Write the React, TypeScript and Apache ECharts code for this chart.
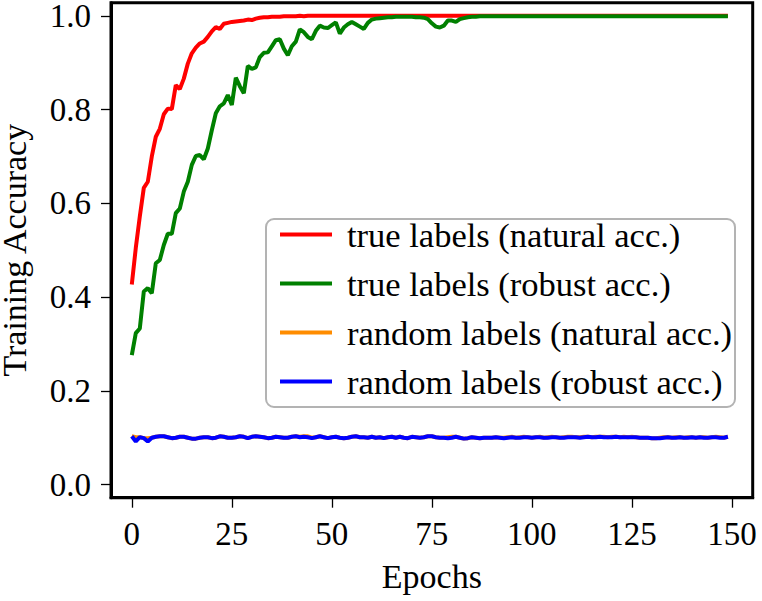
import React, { useEffect, useRef } from "react";
import * as echarts from "echarts";

const FONT = "Liberation Serif";

const seriesNames = [
  "true labels (natural acc.)",
  "true labels (robust acc.)",
  "random labels (natural acc.)",
  "random labels (robust acc.)",
];
const seriesColors = ["#ff0000", "#008000", "#ff8c00", "#0000ff"];

const xTicks = [0, 25, 50, 75, 100, 125, 150];
const yTicks = [0, 0.2, 0.4, 0.6, 0.8, 1.0];

const trueNatural = [
  0.427, 0.505, 0.572, 0.633, 0.646, 0.7, 0.742, 0.759, 0.79, 0.802,
  0.801, 0.852, 0.844, 0.866, 0.898, 0.92, 0.932, 0.941, 0.945, 0.955,
  0.967, 0.976, 0.972, 0.983, 0.985, 0.987, 0.988, 0.989, 0.99, 0.992,
  0.991, 0.994, 0.996, 0.997, 0.997, 0.998, 0.998, 0.998, 0.999, 0.999,
  0.999, 0.999, 1.0, 0.999, 1.0, 1.0, 1.0, 1.0, 1.0, 1.0,
  1.0, 1.0, 1.0, 1.0, 1.0, 1.0, 1.0, 1.0, 1.0, 1.0,
  1.0, 1.0, 1.0, 1.0, 1.0, 1.0, 1.0, 1.0, 1.0, 1.0,
  1.0, 1.0, 1.0, 1.0, 1.0, 1.0, 1.0, 1.0, 1.0, 1.0,
  1.0, 1.0, 1.0, 1.0, 1.0, 1.0, 1.0, 1.0, 1.0, 1.0,
  1.0, 1.0, 1.0, 1.0, 1.0, 1.0, 1.0, 1.0, 1.0, 1.0,
  1.0, 1.0, 1.0, 1.0, 1.0, 1.0, 1.0, 1.0, 1.0, 1.0,
  1.0, 1.0, 1.0, 1.0, 1.0, 1.0, 1.0, 1.0, 1.0, 1.0,
  1.0, 1.0, 1.0, 1.0, 1.0, 1.0, 1.0, 1.0, 1.0, 1.0,
  1.0, 1.0, 1.0, 1.0, 1.0, 1.0, 1.0, 1.0, 1.0, 1.0,
  1.0, 1.0, 1.0, 1.0, 1.0, 1.0, 1.0, 1.0, 1.0, 1.0,
];

const trueRobust = [
  0.276, 0.323, 0.333, 0.412, 0.419, 0.408, 0.472, 0.479, 0.511, 0.535,
  0.535, 0.579, 0.589, 0.625, 0.646, 0.682, 0.701, 0.703, 0.694, 0.717,
  0.756, 0.792, 0.807, 0.813, 0.831, 0.81, 0.868, 0.85, 0.835, 0.893,
  0.887, 0.89, 0.912, 0.921, 0.922, 0.935, 0.948, 0.95, 0.93, 0.916,
  0.935, 0.945, 0.971, 0.965, 0.955, 0.95, 0.968, 0.979, 0.975, 0.974,
  0.98, 0.986, 0.962, 0.975, 0.982, 0.987, 0.982, 0.977, 0.972, 0.985,
  0.992, 0.994, 0.995, 0.996, 0.997, 0.997, 0.998, 0.998, 0.998, 0.998,
  0.998, 0.997, 0.997, 0.996, 0.993, 0.984, 0.977, 0.975, 0.979, 0.99,
  0.99, 0.987, 0.993, 0.995, 0.997, 0.998, 0.998, 0.999, 0.999, 0.999,
  0.999, 0.999, 0.999, 0.999, 0.999, 0.999, 0.999, 0.999, 0.999, 0.999,
  0.999, 0.999, 0.999, 0.999, 0.999, 0.999, 0.999, 0.999, 0.999, 0.999,
  0.999, 0.999, 0.999, 0.999, 0.999, 0.999, 0.999, 0.999, 0.999, 0.999,
  0.999, 0.999, 0.999, 0.999, 0.999, 0.999, 0.999, 0.999, 0.999, 0.999,
  0.999, 0.999, 0.999, 0.999, 0.999, 0.999, 0.999, 0.999, 0.999, 0.999,
  0.999, 0.999, 0.999, 0.999, 0.999, 0.999, 0.999, 0.999, 0.999, 0.999,
];

const randomNatural = [
  0.103, 0.101, 0.101, 0.099, 0.099, 0.1, 0.102, 0.103, 0.103, 0.101,
  0.099, 0.1, 0.102, 0.102, 0.1, 0.098, 0.098, 0.1, 0.101, 0.101,
  0.099, 0.1, 0.103, 0.102, 0.1, 0.1, 0.101, 0.103, 0.102, 0.099,
  0.102, 0.103, 0.102, 0.101, 0.099, 0.1, 0.102, 0.101, 0.1, 0.1,
  0.102, 0.103, 0.102, 0.103, 0.103, 0.1, 0.101, 0.103, 0.101, 0.099,
  0.101, 0.102, 0.1, 0.099, 0.1, 0.102, 0.103, 0.101, 0.101, 0.1,
  0.102, 0.1, 0.101, 0.099, 0.101, 0.102, 0.1, 0.102, 0.1, 0.099,
  0.102, 0.101, 0.1, 0.101, 0.103, 0.103, 0.101, 0.1, 0.1, 0.101,
  0.102, 0.102, 0.1, 0.098, 0.099, 0.101, 0.1, 0.099, 0.1, 0.1,
  0.1, 0.101, 0.1, 0.1, 0.101, 0.102, 0.1, 0.101, 0.102, 0.101,
  0.1, 0.101, 0.102, 0.1, 0.101, 0.102, 0.101, 0.1, 0.101, 0.102,
  0.102, 0.101, 0.101, 0.102, 0.102, 0.101, 0.102, 0.102, 0.102, 0.101,
  0.102, 0.102, 0.101, 0.102, 0.101, 0.102, 0.101, 0.1, 0.1, 0.1,
  0.099, 0.099, 0.1, 0.101, 0.101, 0.1, 0.101, 0.101, 0.1, 0.101,
  0.101, 0.1, 0.101, 0.101, 0.1, 0.101, 0.102, 0.101, 0.1, 0.102,
];

const randomRobust = [
  0.103, 0.092, 0.101, 0.099, 0.092, 0.1, 0.102, 0.103, 0.103, 0.101,
  0.099, 0.1, 0.102, 0.102, 0.1, 0.098, 0.098, 0.1, 0.101, 0.101,
  0.099, 0.1, 0.103, 0.102, 0.1, 0.1, 0.101, 0.103, 0.102, 0.099,
  0.102, 0.103, 0.102, 0.101, 0.099, 0.1, 0.102, 0.101, 0.1, 0.1,
  0.102, 0.103, 0.101, 0.102, 0.101, 0.099, 0.101, 0.103, 0.101, 0.099,
  0.101, 0.102, 0.1, 0.099, 0.1, 0.102, 0.103, 0.101, 0.101, 0.1,
  0.102, 0.1, 0.101, 0.099, 0.101, 0.102, 0.1, 0.102, 0.1, 0.099,
  0.102, 0.101, 0.1, 0.101, 0.103, 0.103, 0.101, 0.1, 0.1, 0.099,
  0.1, 0.102, 0.1, 0.098, 0.099, 0.101, 0.1, 0.099, 0.1, 0.1,
  0.1, 0.101, 0.1, 0.099, 0.1, 0.101, 0.1, 0.1, 0.101, 0.101,
  0.1, 0.101, 0.101, 0.1, 0.1, 0.101, 0.101, 0.1, 0.1, 0.101,
  0.101, 0.101, 0.1, 0.101, 0.102, 0.101, 0.101, 0.102, 0.101, 0.101,
  0.101, 0.102, 0.101, 0.101, 0.101, 0.101, 0.101, 0.1, 0.1, 0.1,
  0.099, 0.099, 0.099, 0.1, 0.101, 0.1, 0.1, 0.101, 0.1, 0.1,
  0.101, 0.1, 0.101, 0.1, 0.1, 0.101, 0.101, 0.1, 0.1, 0.102,
];

const allSeries = [trueNatural, trueRobust, randomNatural, randomRobust];

export default function App() {
  const ref = useRef<HTMLDivElement>(null);

  useEffect(() => {
    if (!ref.current) return;
    const chart = echarts.init(ref.current, null, { renderer: "svg" });
    const labelStyle = {
      fontFamily: FONT,
      fontSize: 33,
      color: "#000",
    };
    const option: any = {
      animation: false,
      backgroundColor: "#ffffff",
      textStyle: { fontFamily: FONT },
      grid: {
        left: 111,
        right: 9.3,
        top: 2.7,
        bottom: 103.3,
        show: true,
        borderColor: "#000",
        borderWidth: 3,
        backgroundColor: "transparent",
        containLabel: false,
        outerBoundsMode: "none",
      },
      xAxis: {
        type: "value",
        min: -5.2,
        max: 155.2,
        name: "Epochs",
        nameLocation: "middle",
        nameGap: 62,
        nameTextStyle: { ...labelStyle, fontSize: 34 },
        axisLine: { show: true, onZero: false, lineStyle: { color: "#000", width: 3 } },
        axisTick: {
          show: true,
          length: 10,
          lineStyle: { color: "#000", width: 1.3 },
          customValues: xTicks,
        },
        axisLabel: { ...labelStyle, margin: 20, customValues: xTicks },
        splitLine: { show: false },
      },
      yAxis: {
        type: "value",
        min: -0.028,
        max: 1.028,
        name: "Training Accuracy",
        nameLocation: "middle",
        nameGap: 80,
        nameTextStyle: { ...labelStyle, fontSize: 34 },
        axisLine: { show: true, onZero: false, lineStyle: { color: "#000", width: 3 } },
        axisTick: {
          show: true,
          length: 10,
          lineStyle: { color: "#000", width: 1.3 },
          customValues: yTicks,
        },
        axisLabel: {
          ...labelStyle,
          margin: 20,
          lineHeight: 28,
          customValues: yTicks,
          formatter: (v: number) => v.toFixed(1),
        },
        splitLine: { show: false },
      },
      legend: {
        show: true,
        orient: "vertical",
        left: 280,
        top: 217,
        padding: 0,
        itemWidth: 52,
        itemHeight: 4,
        itemGap: 14,
        icon: "rect",
        data: seriesNames,
        textStyle: { ...labelStyle, fontSize: 34.5, lineHeight: 34.5, padding: [0, 0, 0, 10] },
      },
      graphic: [
        {
          type: "rect",
          z: 3,
          shape: { x: 266, y: 219, width: 469, height: 188, r: 8 },
          style: { fill: "rgba(255,255,255,0.8)", stroke: "#b3b3b3", lineWidth: 2 },
        },
      ],
      series: allSeries.map((vals, i) => ({
        name: seriesNames[i],
        type: "line",
        data: vals.map((v, j) => [j, v]),
        showSymbol: false,
        symbol: "none",
        color: seriesColors[i],
        lineStyle: { color: seriesColors[i], width: 4 },
        z: 2 + i,
      })),
    };
    chart.setOption(option);
    return () => chart.dispose();
  }, []);

  return (
    <div
      ref={ref}
      style={{ position: "fixed", left: 0, top: 0, width: 762, height: 601 }}
    />
  );
}
